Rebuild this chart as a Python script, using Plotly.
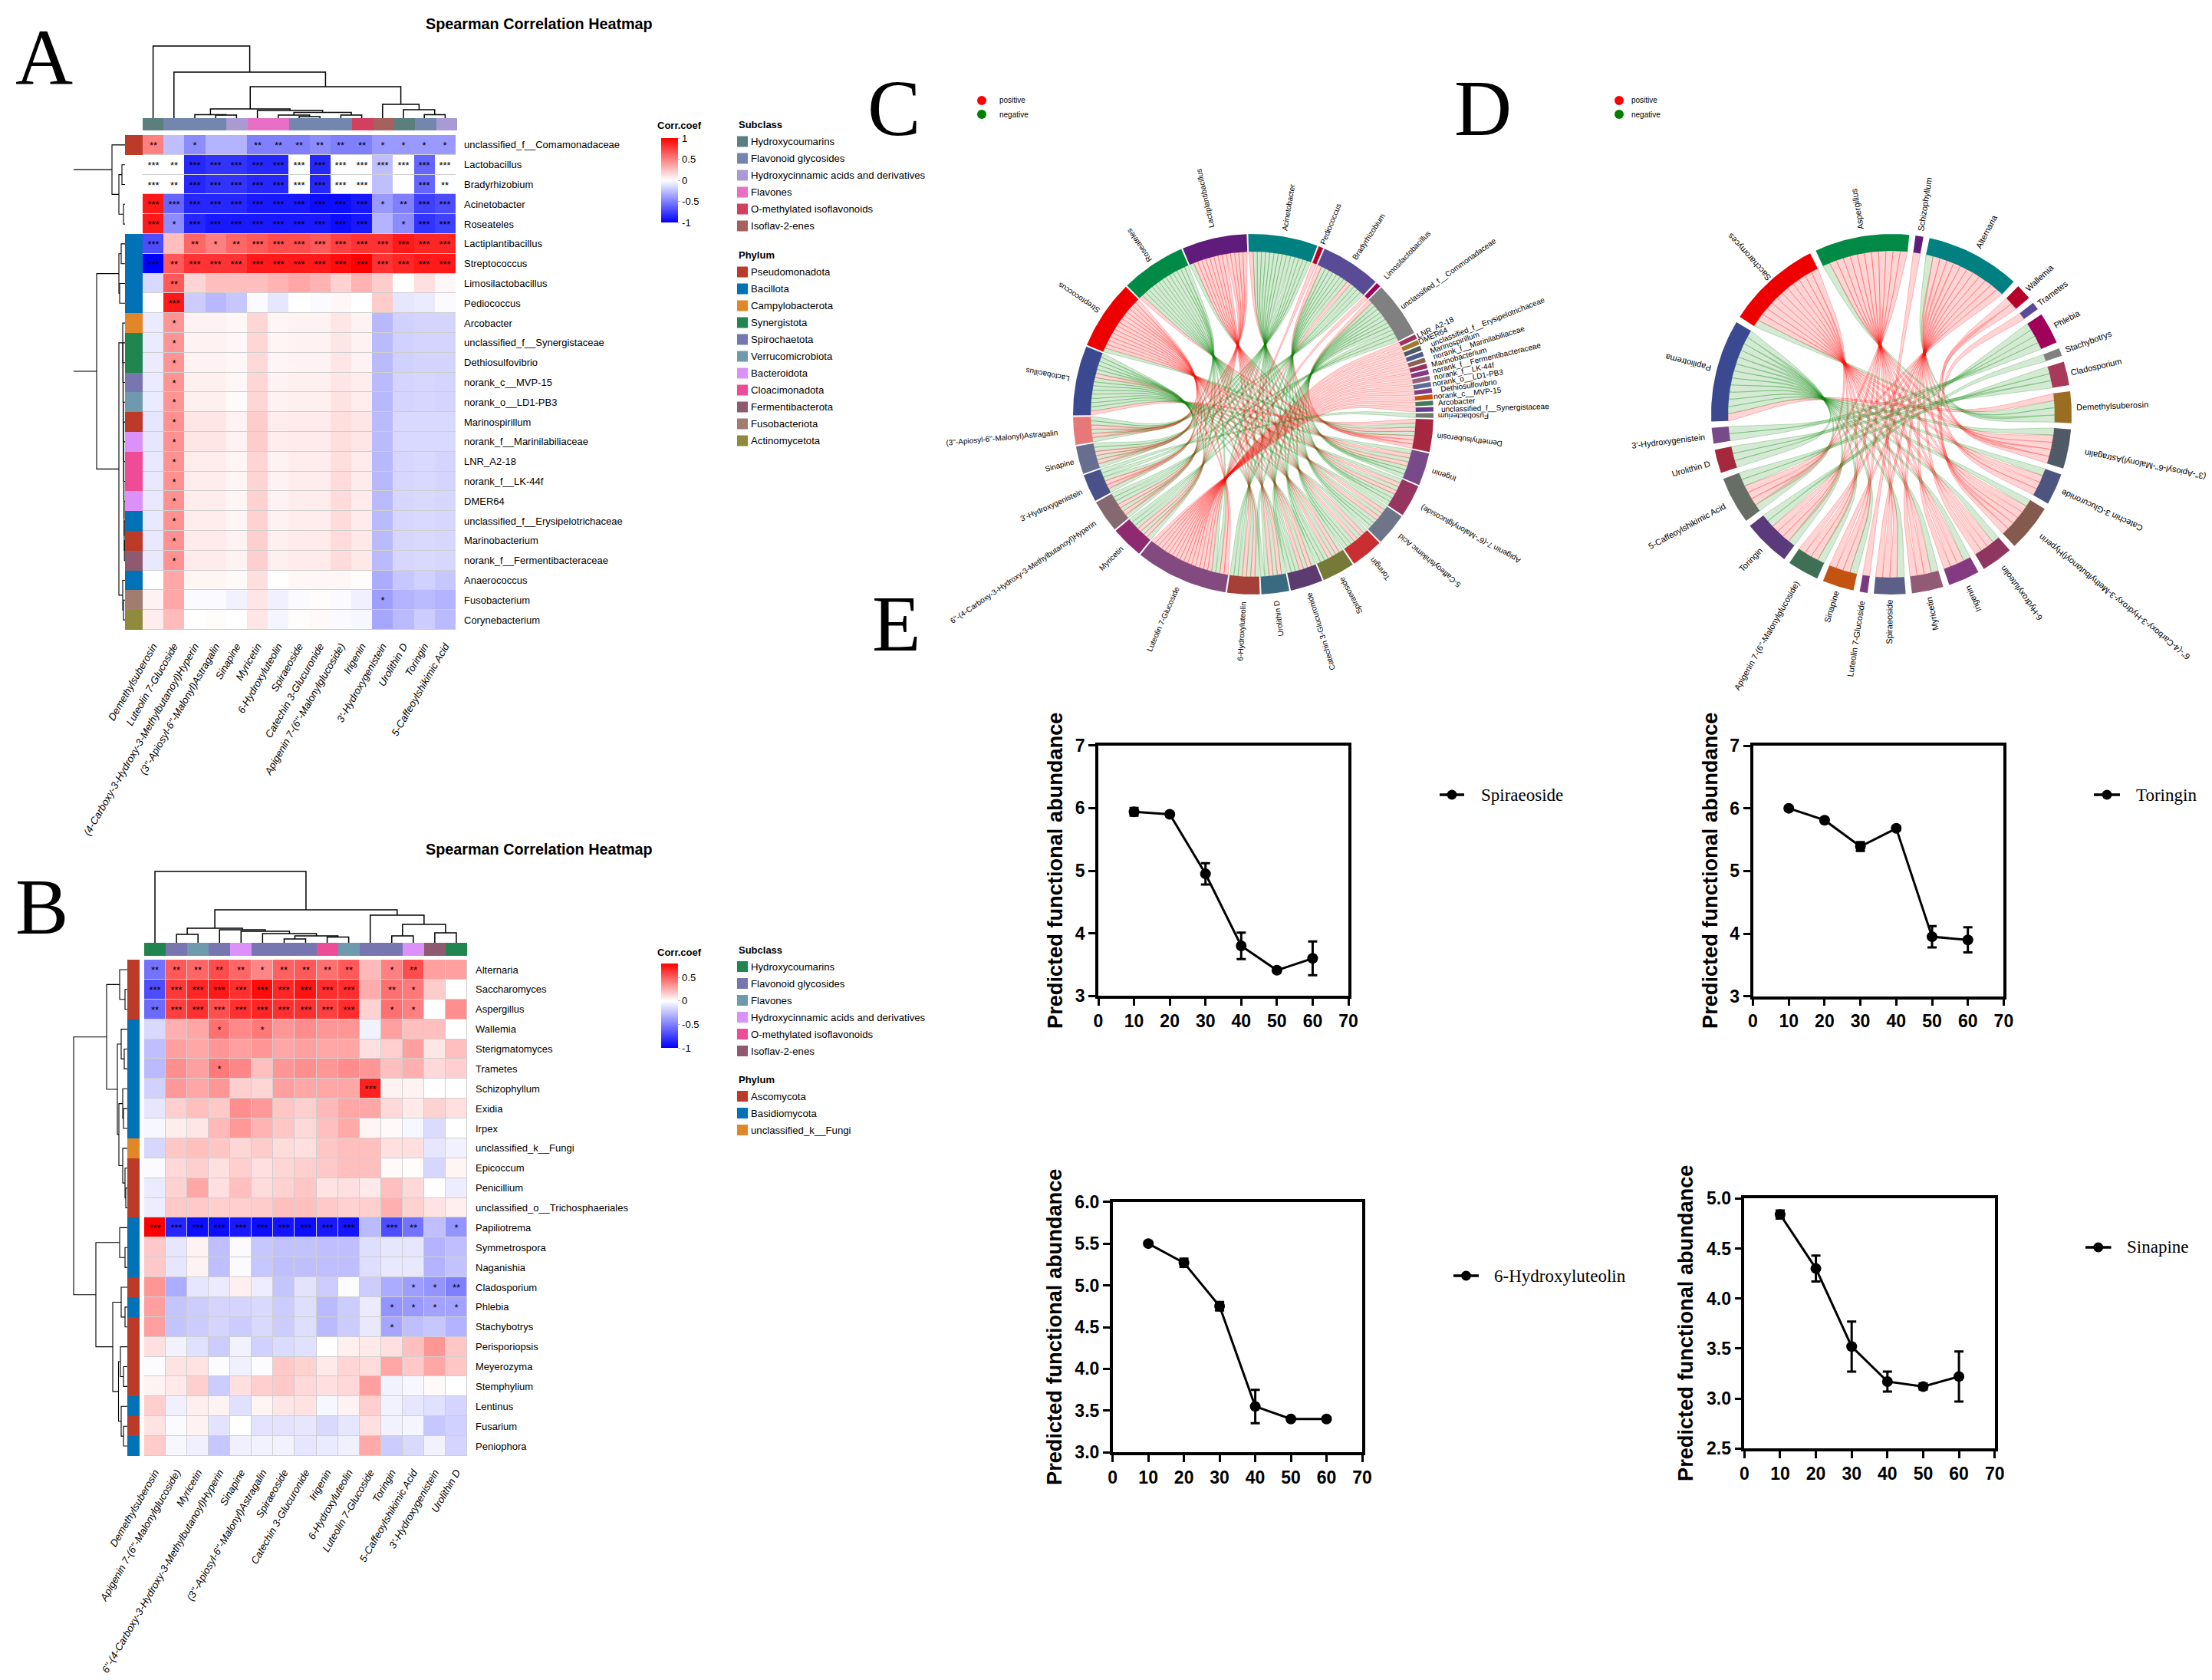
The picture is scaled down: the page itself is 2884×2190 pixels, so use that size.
import math
import numpy as np
import plotly.graph_objects as go

W, H = 2884, 2190

# ---------------- heatmap A data ----------------
rows_a = ["unclassified_f__Comamonadaceae", "Lactobacillus", "Bradyrhizobium", "Acinetobacter", "Roseateles",
          "Lactiplantibacillus", "Streptococcus", "Limosilactobacillus", "Pediococcus", "Arcobacter",
          "unclassified_f__Synergistaceae", "Dethiosulfovibrio", "norank_c__MVP-15", "norank_o__LD1-PB3",
          "Marinospirillum", "norank_f__Marinilabiliaceae", "LNR_A2-18", "norank_f__LK-44f", "DMER64",
          "unclassified_f__Erysipelotrichaceae", "Marinobacterium", "norank_f__Fermentibacteraceae",
          "Anaerococcus", "Fusobacterium", "Corynebacterium"]
cols_a = ["Demethylsuberosin", "Luteolin 7-Glucoside", "(4-Carboxy-3-Hydroxy-3-Methylbutanoyl)Hyperin",
          "(3''-Apiosyl-6''-Malonyl)Astragalin", "Sinapine", "Myricetin", "6-Hydroxyluteolin", "Spiraeoside",
          "Catechin 3-Glucuronide", "Apigenin 7-(6''-Malonylglucoside)", "Irigenin", "3'-Hydroxygenistein",
          "Urolithin D", "Toringin", "5-Caffeoylshikimic Acid"]
z_a = [
    [.50, -.25, -.45, -.30, -.30, -.50, -.50, -.50, -.45, -.50, -.50, -.40, -.40, -.40, -.40],
    [.001, .001, -.85, -.80, -.80, -.85, -.85, -.001, -.85, -.001, -.001, -.25, -.001, -.60, -.001],
    [.001, .001, -.85, -.80, -.80, -.85, -.85, -.001, -.85, -.001, -.001, -.25, -.001, -.60, -.001],
    [.90, -.60, -.85, -.85, -.85, -.90, -.90, -.90, -.95, -.95, -.90, -.40, -.50, -.75, -.70],
    [.90, -.45, -.85, -.90, -.90, -.90, -.90, -.90, -.90, -.95, -.90, -.30, -.45, -.80, -.75],
    [-.70, .25, .60, .50, .60, .65, .70, .70, .65, .75, .80, .80, .90, .85, .85],
    [-1.0, .65, .80, .80, .80, .90, .90, .90, .90, .95, 1.0, .80, .85, .90, .90],
    [-.15, .65, .17, .25, .25, .25, .30, .35, .30, .18, .30, .20, 0, .12, .03],
    [0, .90, -.20, -.28, -.22, -.02, -.10, 0, -.02, .03, 0, .20, -.10, -.08, -.02],
    [-.08, .42, .05, .05, .03, .16, .04, .05, .05, .10, .05, -.28, -.18, -.17, -.17],
    [-.08, .42, .05, .05, .03, .16, .04, .05, .05, .10, .05, -.27, -.18, -.17, -.17],
    [-.08, .42, .05, .05, .03, .15, .04, .05, .05, .10, .05, -.27, -.18, -.17, -.17],
    [-.08, .42, .06, .06, .03, .16, .05, .06, .06, .10, .07, -.27, -.17, -.16, -.17],
    [-.08, .42, .06, .06, .02, .16, .05, .06, .06, .11, .07, -.28, -.17, -.16, -.17],
    [-.10, .43, .10, .10, .05, .20, .07, .08, .08, .13, .10, -.27, -.15, -.15, -.15],
    [-.10, .43, .10, .10, .05, .20, .07, .08, .08, .13, .10, -.27, -.15, -.15, -.15],
    [-.09, .43, .07, .07, .04, .17, .05, .07, .07, .13, .08, -.28, -.16, -.15, -.17],
    [-.09, .43, .07, .07, .04, .17, .05, .07, .07, .14, .08, -.28, -.16, -.15, -.17],
    [-.09, .43, .07, .07, .04, .18, .05, .07, .07, .14, .08, -.27, -.16, -.15, -.16],
    [-.09, .43, .07, .07, .04, .18, .05, .07, .07, .14, .08, -.27, -.16, -.15, -.16],
    [-.09, .43, .08, .08, .05, .19, .06, .08, .08, .14, .09, -.27, -.16, -.15, -.16],
    [-.09, .43, .08, .08, .05, .19, .06, .08, .08, .14, .09, -.27, -.16, -.15, -.16],
    [0, .35, .04, .04, .02, .13, 0, .03, .03, .03, .01, -.33, -.22, -.18, -.22],
    [.05, .35, -.02, -.02, -.05, .10, -.06, -.02, .01, -.02, -.06, -.38, -.30, -.27, -.30],
    [.07, .27, 0, .01, 0, .10, -.04, .01, .02, -.02, -.03, -.35, -.27, -.20, -.27],
]
stars_a = [
    [2, 0, 1, 0, 0, 2, 2, 2, 2, 2, 2, 1, 1, 1, 1],
    [3, 2, 3, 3, 3, 3, 3, 3, 3, 3, 3, 3, 3, 3, 3],
    [3, 2, 3, 3, 3, 3, 3, 3, 3, 3, 3, 0, 0, 3, 2],
    [3, 3, 3, 3, 3, 3, 3, 3, 3, 3, 3, 1, 2, 3, 3],
    [3, 1, 3, 3, 3, 3, 3, 3, 3, 3, 3, 0, 1, 3, 3],
    [3, 0, 2, 1, 2, 3, 3, 3, 3, 3, 3, 3, 3, 3, 3],
    [3, 2, 3, 3, 3, 3, 3, 3, 3, 3, 3, 3, 3, 3, 3],
    [0, 2, 0, 0, 0, 0, 0, 0, 0, 0, 0, 0, 0, 0, 0],
    [0, 3, 0, 0, 0, 0, 0, 0, 0, 0, 0, 0, 0, 0, 0],
] + [[0, 1, 0, 0, 0, 0, 0, 0, 0, 0, 0, 0, 0, 0, 0] for _ in range(13)] + [
    [0, 0, 0, 0, 0, 0, 0, 0, 0, 0, 0, 0, 0, 0, 0],
    [0, 0, 0, 0, 0, 0, 0, 0, 0, 0, 0, 1, 0, 0, 0],
    [0, 0, 0, 0, 0, 0, 0, 0, 0, 0, 0, 0, 0, 0, 0],
]
subclass_names_a = ["Hydroxycoumarins", "Flavonoid glycosides", "Hydroxycinnamic acids and derivatives",
                    "Flavones", "O-methylated isoflavonoids", "Isoflav-2-enes"]
subclass_colors_a = ["#5a7f7d", "#7386ae", "#a99ad4", "#e76fc6", "#d33f5f", "#a66060"]
col_subclass_a = [0, 1, 1, 1, 2, 3, 3, 1, 1, 1, 4, 5, 0, 1, 2]
phylum_names_a = ["Pseudomonadota", "Bacillota", "Campylobacterota", "Synergistota", "Spirochaetota",
                  "Verrucomicrobiota", "Bacteroidota", "Cloacimonadota", "Fermentibacterota",
                  "Fusobacteriota", "Actinomycetota"]
phylum_colors_a = ["#bb3b28", "#0072b5", "#e18727", "#20854e", "#7876b1", "#6f99ad", "#dc91f9", "#ee4c97",
                   "#8f5a70", "#a37c70", "#908a3c"]
row_phylum_a = [0, -1, -1, -1, -1, 1, 1, 1, 1, 2, 3, 3, 4, 5, 0, 6, 7, 7, 6, 1, 0, 8, 1, 9, 10]


def chain(rows, h, step):
    node = rows[-1]
    for i, r in enumerate(reversed(rows[:-1])):
        node = (h - step * (len(rows) - 2 - i), r, node)
    return node


tree_top_a = (94, 0, (60, 1, (41,
              (12, (4.6, 2, (4, 3, 4)), (10, 5, (7.5, (4, 6, (2, 7, 8)), (4, 9, 10)))),
              (18, 11, (11, 12, (4.6, 13, 14))))))
tree_left_a = (67, (17, 0, (8, (4, 1, 2), (2, 3, 4))),
               (37, (8, (5, 5, 6), (7, 7, 8)),
                (8, chain(list(range(9, 22)), 3, 0.2), (3, 22, (2, 23, 24)))))

# ---------------- heatmap B data ----------------
rows_b = ["Alternaria", "Saccharomyces", "Aspergillus", "Wallemia", "Sterigmatomyces", "Trametes", "Schizophyllum",
          "Exidia", "Irpex", "unclassified_k__Fungi", "Epicoccum", "Penicillium", "unclassified_o__Trichosphaeriales",
          "Papiliotrema", "Symmetrospora", "Naganishia", "Cladosporium", "Phlebia", "Stachybotrys", "Perisporiopsis",
          "Meyerozyma", "Stemphylium", "Lentinus", "Fusarium", "Peniophora"]
cols_b = ["Demethylsuberosin", "Apigenin 7-(6''-Malonylglucoside)", "Myricetin",
          "6''-(4-Carboxy-3-Hydroxy-3-Methylbutanoyl)Hyperin", "Sinapine", "(3''-Apiosyl-6''-Malonyl)Astragalin",
          "Spiraeoside", "Catechin 3-Glucuronide", "Irigenin", "6-Hydroxyluteolin", "Luteolin 7-Glucoside",
          "Toringin", "5-Caffeoylshikimic Acid", "3'-Hydroxygenistein", "Urolithin D"]
z_b = [
    [-.55, .52, .48, .56, .48, .38, .50, .52, .45, .52, .22, .40, .56, .30, .30],
    [-.70, .62, .68, .72, .65, .76, .68, .74, .66, .66, .26, .45, .42, .16, 0],
    [-.58, .60, .65, .55, .65, .68, .65, .65, .60, .66, .14, .45, .40, 0, .35],
    [-.15, .25, .28, .45, .37, .42, .33, .36, .33, .33, -.05, .30, .20, .20, 0],
    [-.25, .30, .28, .33, .30, .33, .28, .30, .28, .28, .10, .15, .30, .08, .20],
    [-.27, .35, .30, .42, .38, .20, .33, .35, .33, .36, .33, .20, .25, .12, .15],
    [-.18, .32, .28, .33, .15, .13, .30, .28, .28, .28, .70, .04, .04, 0, 0],
    [-.10, .15, .20, .17, .35, .32, .18, .15, .22, .28, .28, .12, .07, .14, .10],
    [-.03, .06, .08, .22, .32, .24, .18, .12, .20, .27, .03, .02, -.03, -.14, 0],
    [-.16, .18, .20, .18, .13, .16, .11, .10, .18, .20, .20, .10, .10, -.10, -.05],
    [-.02, .12, .15, .10, .15, .10, .13, .15, .17, .20, .20, .02, .01, -.16, .03],
    [-.08, .14, .28, .10, .20, .11, .14, .18, .09, .10, .07, .20, .12, 0, -.07],
    [-.07, .17, .17, .15, .15, .16, .20, .20, .17, .14, .15, .25, .14, .09, .05],
    [.80, -.85, -.95, -.95, -.90, -.95, -.92, -.95, -.90, -.92, -.27, -.70, -.55, -.25, -.42],
    [.17, -.10, .04, -.25, -.02, -.22, -.24, -.24, -.25, -.25, -.13, -.10, -.10, -.30, -.25],
    [.17, -.10, .04, -.25, -.02, -.22, -.25, -.25, -.25, -.25, -.13, -.09, -.09, -.30, -.24],
    [.33, -.32, -.10, -.08, .05, -.07, -.23, -.11, -.20, -.01, -.20, -.33, -.38, -.42, -.50],
    [.30, -.23, -.20, -.17, -.17, -.15, -.20, -.13, -.27, -.20, -.08, -.42, -.40, -.36, -.36],
    [.30, -.23, -.20, -.17, -.20, -.15, -.20, -.13, -.27, -.20, -.09, -.35, -.25, -.22, -.30],
    [.10, -.05, -.12, -.20, -.05, -.18, -.14, -.12, 0, .05, .07, .10, .20, .33, .18],
    [-.01, .09, .09, -.01, -.06, -.01, .17, .14, .07, .13, .11, .28, .17, .28, .18],
    [.04, .07, .15, -.20, .10, .15, .17, .12, .10, .12, .30, -.05, -.03, .02, 0],
    [.15, -.06, .05, .04, -.12, .03, .08, .09, -.03, .04, .15, -.05, -.10, -.12, -.17],
    [.09, -.02, .04, -.11, 0, -.11, -.11, -.10, -.15, -.10, .10, -.05, -.04, -.22, -.18],
    [.16, -.03, -.06, -.22, -.06, -.05, -.05, -.10, -.08, -.06, .27, -.20, -.15, -.05, -.17],
]
stars_b = [[0] * 15 for _ in range(25)]
stars_b[0] = [2, 2, 2, 2, 2, 1, 2, 2, 2, 2, 0, 1, 2, 0, 0]
stars_b[1] = [3, 3, 3, 3, 3, 3, 3, 3, 3, 3, 0, 2, 1, 0, 0]
stars_b[2] = [2, 3, 3, 3, 3, 3, 3, 3, 3, 3, 0, 1, 1, 0, 0]
stars_b[3] = [0, 0, 0, 1, 0, 1, 0, 0, 0, 0, 0, 0, 0, 0, 0]
stars_b[5] = [0, 0, 0, 1, 0, 0, 0, 0, 0, 0, 0, 0, 0, 0, 0]
stars_b[6] = [0, 0, 0, 0, 0, 0, 0, 0, 0, 0, 3, 0, 0, 0, 0]
stars_b[13] = [3, 3, 3, 3, 3, 3, 3, 3, 3, 3, 0, 3, 2, 0, 1]
stars_b[16] = [0, 0, 0, 0, 0, 0, 0, 0, 0, 0, 0, 0, 1, 1, 2]
stars_b[17] = [0, 0, 0, 0, 0, 0, 0, 0, 0, 0, 0, 1, 1, 1, 1]
stars_b[18] = [0, 0, 0, 0, 0, 0, 0, 0, 0, 0, 0, 1, 0, 0, 0]
subclass_names_b = ["Hydroxycoumarins", "Flavonoid glycosides", "Flavones", "Hydroxycinnamic acids and derivatives",
                    "O-methylated isoflavonoids", "Isoflav-2-enes"]
subclass_colors_b = ["#20854e", "#7876b1", "#6f99ad", "#dc91f9", "#ee4c97", "#8f5a70"]
col_subclass_b = [0, 1, 2, 1, 3, 1, 1, 1, 4, 2, 1, 1, 3, 5, 0]
phylum_names_b = ["Ascomycota", "Basidiomycota", "unclassified_k__Fungi"]
phylum_colors_b = ["#bb3b28", "#0072b5", "#e18727"]
row_phylum_b = [0, 0, 0, 1, 1, 1, 1, 1, 1, 2, 0, 0, 0, 1, 1, 1, 0, 1, 0, 0, 0, 0, 1, 0, 1]
tree_top_b = (93, 0, (43, (19, (11, 1, 2), (17, 3, (15, 4, (12, 5, (9, (5, 6, 7), (7.5, 8, 9)))))),
                      (36, 10, (24, (9, 11, 12), (13, 13, 14)))))
tree_left_b = (70, (27, (10, 0, (3, 1, 2)),
                    (13, (8, 3, (4, 4, 5)), (11, (6, 6, (5, 7, 8)), (6, 9, (3, 10, (2, 11, 12)))))),
               (41, (10, 13, (3, 14, 15)),
                (19, (8, 16, (3, 17, 18)), (11.5, (9, 19, (5, 20, 21)), (8, 22, (5, 23, 24))))))

# ---------------- chord layouts ----------------
hyperin_a = cols_a[2]
chord_c_order = ["Acinetobacter", "Pediococcus", "Bradyrhizobium", "Limosilactobacillus",
                 "unclassified_f__Comamonadaceae", "LNR_A2-18", "DMER64", "unclassified_f__Erysipelotrichaceae",
                 "Marinospirillum", "norank_f__Marinilabiliaceae", "Marinobacterium", "norank_f__Fermentibacteraceae",
                 "norank_f__LK-44f", "norank_o__LD1-PB3", "Dethiosulfovibrio", "norank_c__MVP-15", "Arcobacter",
                 "unclassified_f__Synergistaceae", "Fusobacterium", "Demethylsuberosin", "Irigenin",
                 "Apigenin 7-(6''-Malonylglucoside)", "5-Caffeoylshikimic Acid", "Toringin", "Spiraeoside",
                 "Catechin 3-Glucuronide", "Urolithin D", "6-Hydroxyluteolin", "Luteolin 7-Glucoside", "Myricetin",
                 hyperin_a, "3'-Hydroxygenistein", "Sinapine", "(3''-Apiosyl-6''-Malonyl)Astragalin",
                 "Lactobacillus", "Streptococcus", "Roseateles", "Lactiplantibacillus"]
chord_c_colors = ["#008080", "#b5002a", "#5a4b96", "#a0005a", "#808080", "#a03060", "#a07a2a", "#4f5a66", "#4f5a88",
                  "#8a6050", "#953060", "#863a80", "#96607e", "#5e6b94", "#833d85", "#c85510", "#447a5e", "#6a3d8a",
                  "#707870", "#a52840", "#784a8a", "#963560", "#6e7588", "#c82e32", "#757a36", "#5c3b70", "#3a6a80",
                  "#a54038", "#834a80", "#8f2a70", "#856870", "#4a5088", "#686e90", "#e87878", "#3b4a90", "#ee0000",
                  "#008a45", "#601c7a"]
chord_d_order = ["Aspergillus", "Schizophyllum", "Alternaria", "Wallemia", "Trametes", "Phlebia", "Stachybotrys",
                 "Cladosporium", "Demethylsuberosin", "(3''-Apiosyl-6''-Malonyl)Astragalin", "Catechin 3-Glucuronide",
                 "6''-(4-Carboxy-3-Hydroxy-3-Methylbutanoyl)Hyperin", "6-Hydroxyluteolin", "Irigenin", "Myricetin",
                 "Spiraeoside", "Luteolin 7-Glucoside", "Sinapine", "Apigenin 7-(6''-Malonylglucoside)", "Toringin",
                 "5-Caffeoylshikimic Acid", "Urolithin D", "3'-Hydroxygenistein", "Papiliotrema", "Saccharomyces"]
chord_d_colors = ["#008a45", "#601c7a", "#008080", "#b5002a", "#5a4b96", "#a0005a", "#808080", "#a8395a", "#9a6e22",
                  "#505a66", "#4e5480", "#855a4e", "#8f3660", "#843a80", "#915a75", "#5c6088", "#7a3a7c", "#c45312",
                  "#3f7055", "#5a3a7a", "#666e66", "#a5283e", "#784a8a", "#3b4a90", "#ee0000"]

# ---------------- line panels ----------------
times = [10, 20, 30, 40, 50, 60]
spiraeoside_y = [5.94, 5.90, 4.95, 3.80, 3.41, 3.60]
spiraeoside_e = [.06, .03, .17, .21, .03, .27]
toringin_y = [6.00, 5.81, 5.39, 5.68, 3.95, 3.90]
toringin_e = [.03, .03, .07, .03, .17, .20]
hydroxyluteolin_y = [5.50, 5.27, 4.75, 3.55, 3.40, 3.40]
hydroxyluteolin_e = [.02, .05, .05, .20, .02, .02]
sinapine_y = [4.84, 4.30, 3.52, 3.17, 3.12, 3.22]
sinapine_e = [.04, .13, .25, .10, .03, .25]

# ---------------- helpers ----------------
SANS = "Liberation Sans"
SERIF = "Liberation Serif"
fig = go.Figure()
layout_axes = {}
annotations = []
shapes = []
axis_count = [0]


def new_axes(x0, x1, y0, y1, xopts=None, yopts=None):
    axis_count[0] += 1
    n = axis_count[0]
    sx = "" if n == 1 else str(n)
    base = dict(visible=False, showgrid=False, zeroline=False, fixedrange=True)
    xa = dict(base, domain=[x0 / W, x1 / W], anchor="y" + sx)
    ya = dict(base, domain=[1 - y1 / H, 1 - y0 / H], anchor="x" + sx)
    xa.update(xopts or {})
    ya.update(yopts or {})
    layout_axes["xaxis" + sx] = xa
    layout_axes["yaxis" + sx] = ya
    return "x" + sx, "y" + sx


def ann(x, y, text, size=13, family=SANS, xanchor="left", yanchor="middle", angle=0, color="#000000", style=None):
    font = dict(size=size, family=family, color=color)
    if style:
        font["style"] = style
    annotations.append(dict(x=x / W, y=1 - y / H, xref="paper", yref="paper", text=text, showarrow=False,
                            xanchor=xanchor, yanchor=yanchor, textangle=angle, font=font,
                            borderpad=0, borderwidth=0))


def rect(x0, y0, x1, y1, color, layer="above"):
    shapes.append(dict(type="rect", xref="paper", yref="paper", x0=x0 / W, x1=x1 / W, y0=1 - y1 / H, y1=1 - y0 / H,
                       fillcolor=color, line=dict(width=0), layer=layer))


def circle(cx, cy, r, color):
    shapes.append(dict(type="circle", xref="paper", yref="paper", x0=(cx - r) / W, x1=(cx + r) / W,
                       y0=1 - (cy + r) / H, y1=1 - (cy - r) / H, fillcolor=color, line=dict(width=0)))


def tree_lines(node, skip_root=False):
    xs, ys = [], []

    def walk(n, is_root=False):
        if isinstance(n, int):
            return float(n), 0.0
        h, l, r = n
        lp, lh = walk(l)
        rp, rh = walk(r)
        if is_root and skip_root:
            xs.extend([lp, lp, None, rp, rp, None])
            ys.extend([lh, h, None, rh, h, None])
        else:
            xs.extend([lp, lp, rp, rp, None])
            ys.extend([lh, h, h, rh, None])
        return (lp + rp) / 2, h

    walk(node, True)
    return xs, ys


def strip_colorscale(colors):
    n = len(colors)
    return [[i / (n - 1), c] for i, c in enumerate(colors)]


def heat_panel(rows, cols, z, stars, cs, zmin, zmax, hm, top, left, sub_cols, sub_colors, phy_rows, phy_colors,
               cb, xgap, label_standoff, skip_root):
    hx0, hx1, hy0, hy1 = hm
    rect(hx0, hy0, hx1, hy1, "#cfcfcf", "below")
    xa, ya = new_axes(hx0, hx1, hy0, hy1,
                      dict(visible=True, showline=False, ticks="", side="bottom", tickangle=-60,
                           tickfont=dict(size=13.3, family=SANS, style="italic", color="#000000"),
                           tickmode="array", tickvals=cols, ticktext=cols, categoryorder="array",
                           categoryarray=cols, type="category", ticklabelstandoff=10, automargin=False),
                      dict(visible=True, showline=False, ticks="", side="right",
                           tickfont=dict(size=13, family=SANS, color="#000000"),
                           tickmode="array", tickvals=rows, ticktext=rows, categoryorder="array",
                           categoryarray=rows, type="category", autorange="reversed",
                           ticklabelstandoff=label_standoff, automargin=False))
    text = [["*" * n for n in r] for r in stars]
    fig.add_trace(go.Heatmap(x=cols, y=rows, z=z, zmin=zmin, zmax=zmax, colorscale=cs, xaxis=xa, yaxis=ya,
                             text=text, texttemplate="%{text}", textfont=dict(size=13, family=SANS, color="#000000"),
                             xgap=xgap, ygap=1, hoverinfo="skip",
                             colorbar=dict(x=cb[0] / W, xanchor="left", y=1 - cb[2] / H, yanchor="bottom",
                                           lenmode="pixels", len=cb[2] - cb[1], thicknessmode="pixels", thickness=22,
                                           tickmode="array", tickvals=cb[3], ticktext=cb[4], outlinewidth=0,
                                           ticks="outside", ticklen=3, tickcolor="#bbbbbb", ypad=0, xpad=0,
                                           tickfont=dict(size=13, family=SANS, color="#000000"))))
    # subclass strip
    sx, sy = new_axes(top[0], top[1], top[2], top[3], dict(range=[-0.5, len(cols) - 0.5]), dict(range=[0, 1]))
    fig.add_trace(go.Heatmap(x=list(range(len(cols))), y=[0.5], z=[sub_cols], zmin=0, zmax=len(sub_colors) - 1,
                             colorscale=strip_colorscale(sub_colors), showscale=False, xaxis=sx, yaxis=sy,
                             hoverinfo="skip"))
    # phylum strip
    px, py = new_axes(left[0], left[1], left[2], left[3], dict(range=[0, 1]), dict(range=[len(rows) - 0.5, -0.5]))
    fig.add_trace(go.Heatmap(x=[0.5], y=list(range(len(rows))), z=[[v] for v in phy_rows], zmin=0,
                             zmax=len(phy_colors) - 1, colorscale=strip_colorscale(phy_colors), showscale=False,
                             xaxis=px, yaxis=py, hoverinfo="skip"))


def legend_block(x_sw, x_txt, y_title, items, colors):
    ann(x_sw + 2, y_title, "<b>%s</b>" % items[0], size=13)
    for i, (name, col) in enumerate(zip(items[1], colors)):
        y = y_title + items[2] + 22 * i
        rect(x_sw, y - 7, x_sw + 14, y + 7, col)
        ann(x_txt, y, name, size=13.2)


# ---------------- panel A ----------------
cs_a = [[0, "#0000ff"], [0.5, "#ffffff"], [1, "#ff0000"]]
heat_panel(rows_a, cols_a, z_a, stars_a, cs_a, -1, 1, (186, 594, 176, 821), (186, 596, 154, 170), (163, 186, 176, 821),
           col_subclass_a, subclass_colors_a, [v + 1 for v in row_phylum_a], ["#ffffff"] + phylum_colors_a,
           (862, 180, 290, [1, 0.5, 0, -0.5, -1], ["1", "0.5", "0", "-0.5", "-1"]), 0, 10, True)
xs, ys = tree_lines(tree_top_a)
xa, ya = new_axes(186, 594, 54, 154, dict(range=[-0.5, 14.5]), dict(range=[0, 100]))
fig.add_trace(go.Scatter(x=xs, y=ys, mode="lines", line=dict(color="#000000", width=1.5), xaxis=xa, yaxis=ya,
                         hoverinfo="skip", showlegend=False))
xs, ys = tree_lines(tree_left_a, skip_root=True)
xa, ya = new_axes(83, 163, 176, 821, dict(range=[80, 0]), dict(range=[24.5, -0.5]))
fig.add_trace(go.Scatter(x=ys, y=xs, mode="lines", line=dict(color="#000000", width=1.1), xaxis=xa, yaxis=ya,
                         hoverinfo="skip", showlegend=False))
ann(703, 31, "<b>Spearman Correlation Heatmap</b>", size=19.8, xanchor="center")
ann(857, 163, "<b>Corr.coef</b>", size=13)
legend_block(961, 979, 162, ("Subclass", subclass_names_a, 22.5), subclass_colors_a)
legend_block(961, 979, 333, ("Phylum", phylum_names_a, 21.5), phylum_colors_a)

# ---------------- panel B ----------------
cs_b = [[0, "#0000ff"], [1 / 1.8, "#ffffff"], [1, "#ff0000"]]
heat_panel(rows_b, cols_b, z_b, stars_b, cs_b, -1, 0.8, (188, 609, 1251, 1898), (188, 609, 1229, 1246),
           (166, 182, 1251, 1898), col_subclass_b, subclass_colors_b, row_phylum_b, phylum_colors_b,
           (862, 1256, 1366, [0.5, 0, -0.5, -1], ["0.5", "0", "-0.5", "-1"]), 1, 10, False)
xs, ys = tree_lines(tree_top_b)
xa, ya = new_axes(188, 609, 1129, 1229, dict(range=[-0.5, 14.5]), dict(range=[0, 100]))
fig.add_trace(go.Scatter(x=xs, y=ys, mode="lines", line=dict(color="#000000", width=1.5), xaxis=xa, yaxis=ya,
                         hoverinfo="skip", showlegend=False))
xs, ys = tree_lines(tree_left_b)
xa, ya = new_axes(86, 166, 1251, 1898, dict(range=[80, 0]), dict(range=[24.5, -0.5]))
fig.add_trace(go.Scatter(x=ys, y=xs, mode="lines", line=dict(color="#000000", width=1.1), xaxis=xa, yaxis=ya,
                         hoverinfo="skip", showlegend=False))
ann(703, 1107, "<b>Spearman Correlation Heatmap</b>", size=19.8, xanchor="center")
ann(857, 1241, "<b>Corr.coef</b>", size=13)
legend_block(961, 979, 1238, ("Subclass", subclass_names_b, 22), subclass_colors_b)
legend_block(961, 979, 1407, ("Phylum", phylum_names_b, 22), phylum_colors_b)


# ---------------- chord panels ----------------
def catmull(pts, n=14):
    out = []
    for i in range(1, len(pts) - 2):
        p0, p1, p2, p3 = pts[i - 1], pts[i], pts[i + 1], pts[i + 2]
        for t in np.linspace(0, 1, n, endpoint=False):
            out.append(0.5 * ((2 * p1) + (-p0 + p2) * t + (2 * p0 - 5 * p1 + 4 * p2 - p3) * t ** 2
                              + (-p0 + 3 * p1 - 3 * p2 + p3) * t ** 3))
    out.append(pts[-2])
    return np.array(out)


def chord(order, colors, rows, cols, z, stars, cx, cy, r_out, r_in, start, gap, label_size, display=None):
    display = display or {}
    links = []
    for i, rname in enumerate(rows):
        for j, cname in enumerate(cols):
            if stars[i][j] > 0:
                links.append((rname, cname, 1 if z[i][j] > 0 else -1))
    counts = {n: 0 for n in order}
    for a, b, s in links:
        counts[a] += 1
        counts[b] += 1
    total = sum(counts.values())
    w = (360 - gap * len(order)) / total
    spans = {}
    ang = start
    for n in order:
        spans[n] = (ang, ang + counts[n] * w)
        ang += counts[n] * w + gap
    centers = {n: (spans[n][0] + spans[n][1]) / 2 for n in order}
    xa, ya = new_axes(cx - 300, cx + 300, cy - 300, cy + 300, dict(range=[-300, 300]), dict(range=[-300, 300]))

    def pt(r, deg):
        t = np.radians(deg)
        return np.array([r * np.sin(t), r * np.cos(t)])

    partners = {n: [] for n in order}
    for k, (a, b, s) in enumerate(links):
        partners[a].append((b, k))
        partners[b].append((a, k))
    slots = {}
    for n in order:
        ordered = sorted(partners[n], key=lambda p: ((centers[p[0]] - centers[n]) % 360))
        for idx, (other, k) in enumerate(ordered):
            slots[(n, k)] = (spans[n][0] + idx * w, spans[n][0] + (idx + 1) * w)

    waist_r = 0.45 * r_in
    squeeze = 0.12
    keep = 0.75

    def waist(name, slot, edge_ang):
        c = centers[name]
        mid = (slot[0] + slot[1]) / 2
        return c + (mid - c) * squeeze + (edge_ang - mid) * keep

    def edge(na, sa, pa, nb, sb, pb):
        p = [pt(r_in * 1.25, pa), pt(r_in, pa), pt(waist_r, waist(na, sa, pa)),
             pt(waist_r, waist(nb, sb, pb)), pt(r_in, pb), pt(r_in * 1.25, pb)]
        return catmull(p)

    for k, (a, b, s) in enumerate(links):
        sa, sb = slots[(a, k)], slots[(b, k)]
        a0, a1 = sa
        b0, b1 = sb
        ta = np.radians(np.linspace(a0, a1, 5))
        tb = np.radians(np.linspace(b0, b1, 5))
        arc_a = np.column_stack([r_in * np.sin(ta), r_in * np.cos(ta)])
        arc_b = np.column_stack([r_in * np.sin(tb), r_in * np.cos(tb)])
        path = np.vstack([arc_a, edge(a, sa, a1, b, sb, b0), arc_b, edge(b, sb, b1, a, sa, a0)])
        rgb = "255,0,0" if s > 0 else "0,128,0"
        fig.add_trace(go.Scatter(x=path[:, 0], y=path[:, 1], mode="lines", fill="toself",
                                 fillcolor="rgba(%s,0.17)" % rgb, line=dict(color="rgba(%s,0.3)" % rgb, width=0.8),
                                 xaxis=xa, yaxis=ya, hoverinfo="skip", showlegend=False))
    for n, col in zip(order, colors):
        a0, a1 = spans[n]
        t = np.radians(np.linspace(a0, a1, 24))
        px = np.concatenate([r_out * np.sin(t), r_in * np.sin(t[::-1])])
        py = np.concatenate([r_out * np.cos(t), r_in * np.cos(t[::-1])])
        fig.add_trace(go.Scatter(x=px, y=py, mode="lines", fill="toself", fillcolor=col, line=dict(width=0, color=col),
                                 xaxis=xa, yaxis=ya, hoverinfo="skip", showlegend=False))
        th = centers[n] % 360
        label = display.get(n, n)
        length = 0.5 * label_size * len(label)
        rad = r_out + 6 + length / 2
        lx, ly = pt(rad, th)
        rot = th + 90 if 90 < th < 270 else th - 90
        rot = (rot + 180) % 360 - 180
        ann(cx + lx, cy - ly, label, size=label_size, xanchor="center", angle=rot)


chord(chord_c_order, chord_c_colors, rows_a, cols_a, z_a, stars_a, 1634, 540, 235, 212, -1.6, 0.5, 10,
      {hyperin_a: "6''-(4-Carboxy-3-Hydroxy-3-Methylbutanoyl)Hyperin",
       "unclassified_f__Comamonadaceae": "unclassified_f__Commonadaceae"})
chord(chord_d_order, chord_d_colors, rows_b, cols_b, z_b, stars_b, 2466, 540, 235, 213, -24.8, 2.0, 11)
for x_dot, x_txt in ((1280, 1303), (2111, 2127)):
    circle(x_dot, 131, 6, "#ff0000")
    circle(x_dot, 149, 6, "#008000")
    ann(x_txt, 131, "positive", size=10)
    ann(x_txt, 149, "negative", size=10)


# ---------------- line panels ----------------
def line_panel(box, yrange, dtick, yfmt, ys_, es_, name, title_xy, key):
    x0, x1, y0, y1 = box
    tickfont = dict(size=23, family=SANS, weight="bold", color="#000000")
    common = dict(visible=True, showline=True, linewidth=3.5, linecolor="#000000", mirror=True, ticks="outside",
                  ticklen=9, tickwidth=3, tickcolor="#000000", tickfont=tickfont)
    xa, ya = new_axes(x0, x1, y0, y1, dict(common, range=[0, 70], dtick=10, tick0=0),
                      dict(common, range=yrange, dtick=dtick, tick0=yrange[0], tickformat=yfmt))
    fig.add_trace(go.Scatter(x=times, y=ys_, name=name, mode="lines+markers", xaxis=xa, yaxis=ya, showlegend=False,
                             line=dict(color="#000000", width=3), marker=dict(color="#000000", size=14),
                             error_y=dict(type="data", array=es_, visible=True, color="#000000", thickness=3, width=6)))
    ann(title_xy[0], title_xy[1], "<b>Predicted functional abundance</b>", size=27.2, xanchor="center", angle=-90)
    kx0, kx1, ky, tx = key
    shapes.append(dict(type="line", xref="paper", yref="paper", x0=kx0 / W, x1=kx1 / W, y0=1 - ky / H, y1=1 - ky / H,
                       line=dict(color="#000000", width=3.5)))
    circle((kx0 + kx1) / 2, ky, 6.5, "#000000")
    ann(tx, ky, name, size=23, family=SERIF)


line_panel((1432, 1758, 971.7, 1298.3), [3, 7], 1, "d", spiraeoside_y, spiraeoside_e, "Spiraeoside", (1375, 1135),
           (1877, 1909, 1036, 1931))
line_panel((2285.5, 2612.4, 972, 1298.7), [3, 7], 1, "d", toringin_y, toringin_e, "Toringin", (2229, 1135),
           (2730, 2764, 1036, 2785))
line_panel((1450.7, 1776, 1566.7, 1893.3), [3, 6], 0.5, ".1f", hydroxyluteolin_y, hydroxyluteolin_e,
           "6-Hydroxyluteolin", (1374, 1730), (1895, 1928, 1663, 1948))
line_panel((2274.3, 2600.7, 1562.3, 1888.3), [2.5, 5], 0.5, ".1f", sinapine_y, sinapine_e, "Sinapine", (2197, 1725),
           (2719, 2752.5, 1626, 2773))

# ---------------- panel letters ----------------
for letter, x, y in (("A", 57, 74), ("B", 55, 1181), ("C", 1165, 140), ("D", 1933, 140), ("E", 1169, 813)):
    ann(x, y, letter, size=104, family=SERIF, xanchor="center")

fig.update_layout(width=W, height=H, margin=dict(l=0, r=0, t=0, b=0, autoexpand=False), autosize=False,
                  showlegend=False, paper_bgcolor="#ffffff", plot_bgcolor="rgba(0,0,0,0)", annotations=annotations,
                  shapes=shapes, hovermode=False, **layout_axes)
fig.write_html("out.html", config=dict(displayModeBar=False),
               post_script="document.body.style.margin='0';document.documentElement.style.overflow='hidden';")
